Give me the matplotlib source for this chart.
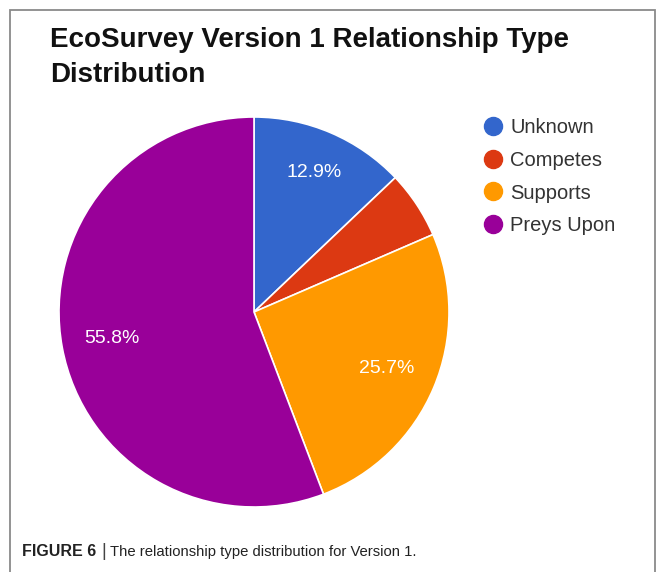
import numpy as np
import matplotlib.pyplot as plt
from matplotlib.lines import Line2D
from matplotlib.patches import Rectangle

# data
labels = ['Unknown', 'Competes', 'Supports', 'Preys Upon']
shares = [12.9, 5.6, 25.7, 55.8]
colors = ['#3366cc', '#dc3912', '#ff9900', '#990099']
label_dist = [0.78, 0.75, 0.74, 0.74]

W, H = 665, 572
plt.rcParams['font.family'] = ['Liberation Sans', 'DejaVu Sans']
fig = plt.figure(figsize=(W / 100, H / 100), dpi=100)

# outer frame
fig.patches.append(Rectangle((10 / W, -0.05), 645 / W, 1.05 - 10 / H,
                             transform=fig.transFigure, fill=False,
                             edgecolor='#8a8a8a', lw=1.3))

# pie: centre (254, 312) px, radius 195 px
cx, cy, r = 254, 312, 195
ax = fig.add_axes([(cx - r) / W, (H - cy - r) / H, 2 * r / W, 2 * r / H])
def fmt(p):
    return '%.1f%%' % p if p > 6 else ''
wedges, texts, autotexts = ax.pie(shares, colors=colors, startangle=90,
                                  counterclock=False, autopct=fmt,
                                  pctdistance=0.78, radius=1,
                                  wedgeprops=dict(edgecolor='white', linewidth=1.2),
                                  textprops=dict(color='white', fontsize=14))
for w, t, d in zip(wedges, autotexts, label_dist):
    a = np.deg2rad((w.theta1 + w.theta2) / 2)
    t.set_position((d * np.cos(a), d * np.sin(a)))
ax.set_xlim(-1, 1)
ax.set_ylim(-1, 1)
ax.set_aspect('equal')
ax.axis('off')

fig.text(50 / W, 1 - 40 / H, 'EcoSurvey Version 1 Relationship Type', fontsize=20,
         fontweight='bold', va='center', ha='left', color='#111111')
fig.text(50 / W, 1 - 75 / H, 'Distribution', fontsize=20,
         fontweight='bold', va='center', ha='left', color='#111111')

handles = [Line2D([], [], marker='o', linestyle='', markersize=13,
                  markerfacecolor=c, markeredgecolor=c) for c in colors]
fig.legend(handles, labels, loc='upper left',
           bbox_to_anchor=(465 / W, 1 - 100 / H), frameon=False,
           fontsize=14.5, handlelength=1.0, handletextpad=0.35,
           labelspacing=0.68, labelcolor='#333333')

# caption
t1 = fig.text(22 / W, 1 - 552 / H, 'FIGURE 6', fontsize=11.5, fontweight='bold',
              va='center', ha='left', color='#222222')
renderer = fig.canvas.get_renderer()
x1 = t1.get_window_extent(renderer).x1
t2 = fig.text((x1 + 5) / W, 1 - 552 / H, '|', fontsize=13, va='center',
              ha='left', color='#444444')
x2 = t2.get_window_extent(renderer).x1
fig.text((x2 + 4) / W, 1 - 552 / H, 'The relationship type distribution for Version 1.',
         fontsize=10.7, va='center', ha='left', color='#222222')

fig.savefig('out.png', dpi=100, facecolor='white')
